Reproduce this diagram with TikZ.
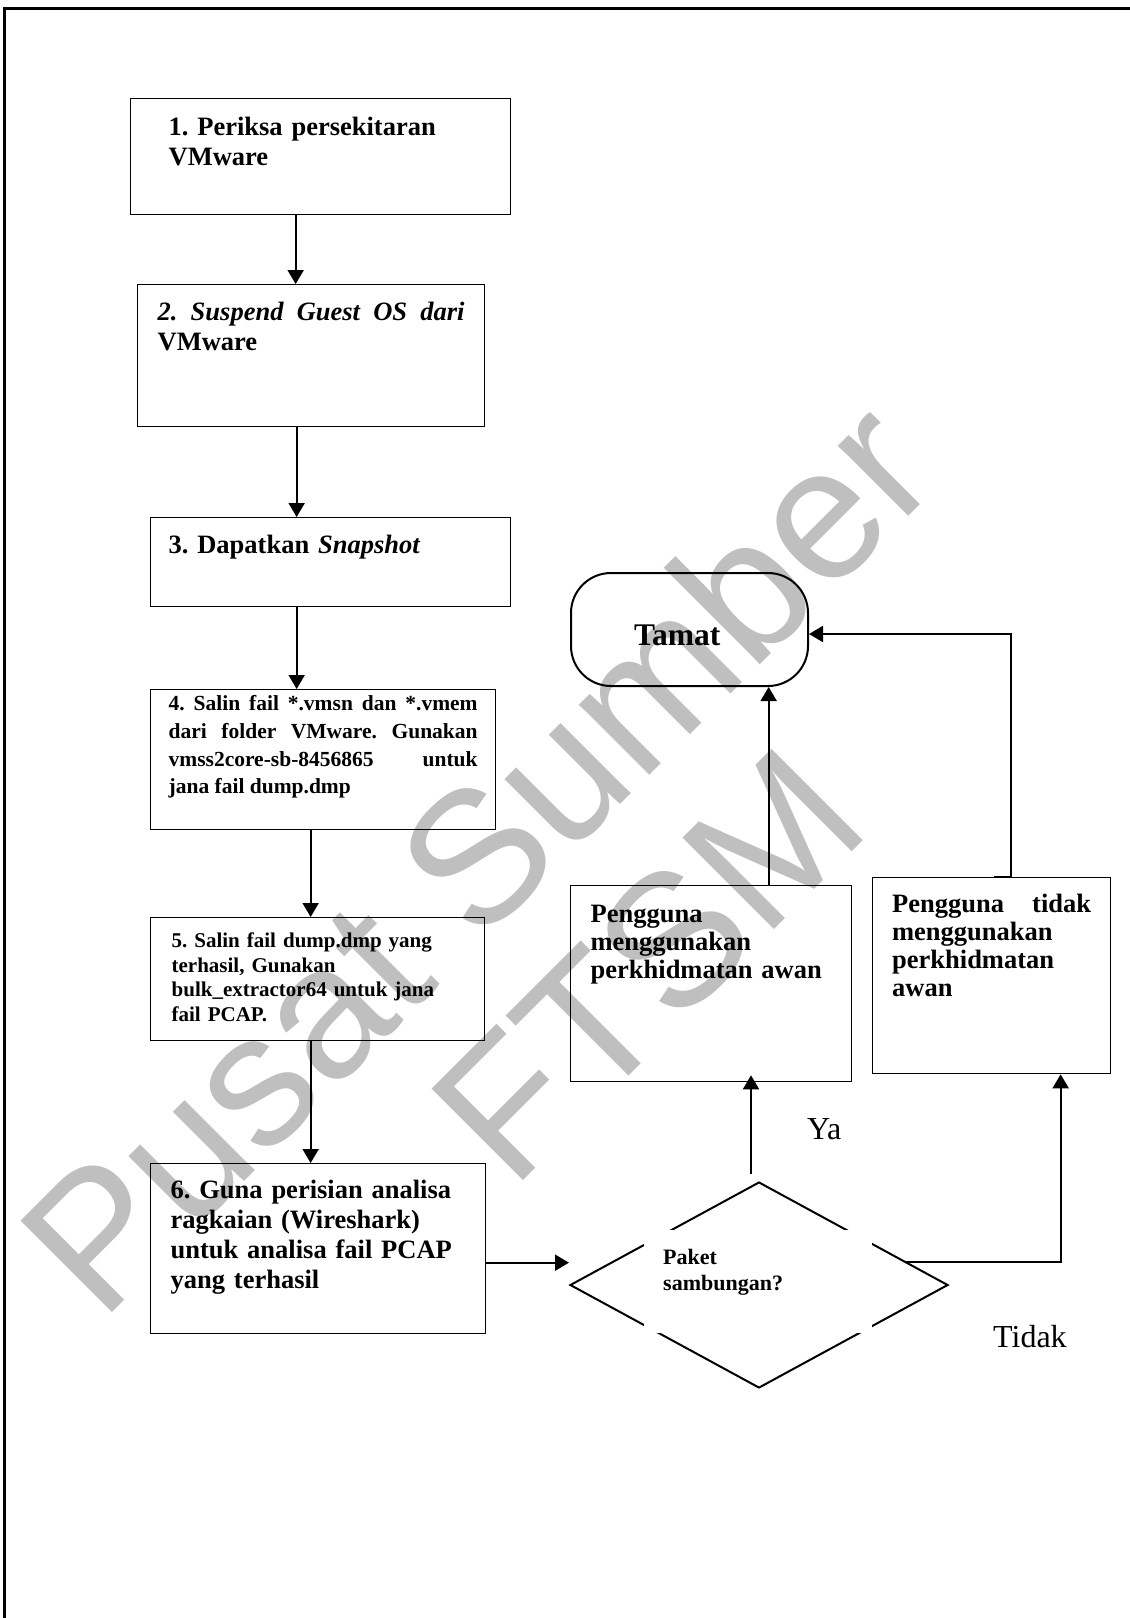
\documentclass[tikz,border=0pt]{standalone}
\usepackage{fontspec}
\setmainfont{Liberation Serif}
\newfontfamily\markfont{Liberation Sans}
\usetikzlibrary{arrows.meta,shapes.geometric}
\frenchspacing

\begin{document}
\begin{tikzpicture}[x=1pt, y=-1pt,
    stepbox/.style={draw, line width=1.3pt, anchor=north west, inner ysep=0pt, align=left},
    big/.style={font=\fontsize{26.5}{30}\selectfont\bfseries},
    flow/.style={draw, line width=2pt, -{Triangle[length=14pt,width=16pt]}},
    wmark/.style={text=black!25, font=\markfont\fontsize{188}{188}\selectfont, inner sep=0pt, rotate=45},
    ans/.style={font=\fontsize{32}{36}\selectfont, anchor=base west, inner sep=0pt}]

  \useasboundingbox (0,0) rectangle (1130,1618);

  % watermark
  \node[wmark] (wm1) at (475,855) {Pusat Sumber};
  \node[wmark] (wm2) at (648,965) {FTSM};

  % page frame
  \draw[line width=3pt] (4,1618) -- (4,8) -- (1130,8);

  \node[stepbox, big, inner xsep=38pt, text width=304pt, text height=37pt, text depth=79pt]
    (b1) at (130,98) {1. Periksa persekitaran\\VMware};
  \node[stepbox, big, align=justify, inner xsep=20pt, text width=307pt, text height=36pt, text depth=106pt]
    (b2) at (137,284) {\textit{2. Suspend Guest OS dari}\linebreak VMware};
  \node[stepbox, big, inner xsep=18pt, text width=324pt, text height=36pt, text depth=53pt]
    (b3) at (150,517) {3. Dapatkan \textit{Snapshot}};
  \node[stepbox, font=\fontsize{21.5}{27.7}\selectfont\bfseries, align=justify,
        inner xsep=18pt, text width=309pt, text height=21pt, text depth=119pt]
    (b4) at (150,689) {4. Salin fail *.vmsn dan *.vmem\linebreak
      dari folder VMware. Gunakan\linebreak \mbox{vmss2core-sb-8456865} untuk\linebreak
      jana fail dump.dmp};
  \node[stepbox, font=\fontsize{21}{24.5}\selectfont\bfseries,
        inner xsep=21pt, text width=292pt, text height=30pt, text depth=93pt]
    (b5) at (150,917) {5. Salin fail dump.dmp yang\\terhasil, Gunakan\\bulk\_extractor64 untuk jana\\fail PCAP.};
  \node[stepbox, big, inner xsep=20pt, text width=295pt, text height=35pt, text depth=135pt]
    (b6) at (150,1163) {6. Guna perisian analisa\\ragkaian (Wireshark)\\untuk analisa fail PCAP\\yang terhasil};

  \node[draw, line width=2pt, rounded corners=40pt, anchor=north west, minimum width=237pt,
        minimum height=113pt, inner xsep=63pt, text width=111pt, text height=31pt, text depth=0pt,
        align=left, font=\fontsize{31.5}{34}\selectfont\bfseries]
    (tamat) at (570,572) {Tamat};

  \node[stepbox, font=\fontsize{26.5}{28}\selectfont\bfseries,
        inner xsep=20pt, text width=241pt, text height=37pt, text depth=159pt]
    (pakai) at (570,885) {Pengguna\\menggunakan\\perkhidmatan awan};
  \node[stepbox, font=\fontsize{26.5}{28}\selectfont\bfseries, align=justify,
        inner xsep=19.5pt, text width=199pt, text height=35pt, text depth=161pt]
    (tidak) at (872,877) {Pengguna tidak\linebreak menggunakan\linebreak perkhidmatan\linebreak awan};

  \node[draw, diamond, line width=2pt, minimum width=378pt, minimum height=206pt, inner sep=0pt]
    (dec) at (759,1285) {};
  \node[fill=white, anchor=north west, inner xsep=19pt, inner ysep=0pt, text width=190pt,
        text height=34pt, text depth=69pt, align=left, font=\fontsize{22}{26}\selectfont\bfseries]
    (tanya) at (644,1230) {Paket\\sambungan?};

  \node[ans] (ya) at (807,1139) {Ya};
  \node[ans] (no) at (993,1347) {Tidak};

  \draw[flow] ([xshift=-25pt]b1.south) -- ([xshift=-25pt]b1.south |- b2.north);
  \draw[flow] ([xshift=-14.5pt]b2.south) -- ([xshift=-14.5pt]b2.south |- b3.north);
  \draw[flow] ([xshift=-34pt]b3.south) -- ([xshift=-34pt]b3.south |- b4.north);
  \draw[flow] ([xshift=-12.5pt]b4.south) -- ([xshift=-12.5pt]b4.south |- b5.north);
  \draw[flow] ([xshift=-7pt]b5.south) -- ([xshift=-7pt]b5.south |- b6.north);
  \draw[flow] ([yshift=-14pt]b6.east) -- ([yshift=-14pt]b6.east -| dec.west);

  \draw[flow] ([xshift=-8pt,yshift=7pt]dec.north) -- ([xshift=-8pt,yshift=7pt]dec.north |- pakai.south);
  \draw[flow] (dec.9) -| ([xshift=69pt]tidak.south);
  \draw[flow] ([xshift=57.5pt]pakai.north) -- ([xshift=57.5pt]pakai.north |- tamat.south);
  \draw[flow] ([xshift=2pt]tidak.north) -- ([xshift=19pt]tidak.north) |- ([yshift=-4.5pt]tamat.east);
\end{tikzpicture}
\end{document}
